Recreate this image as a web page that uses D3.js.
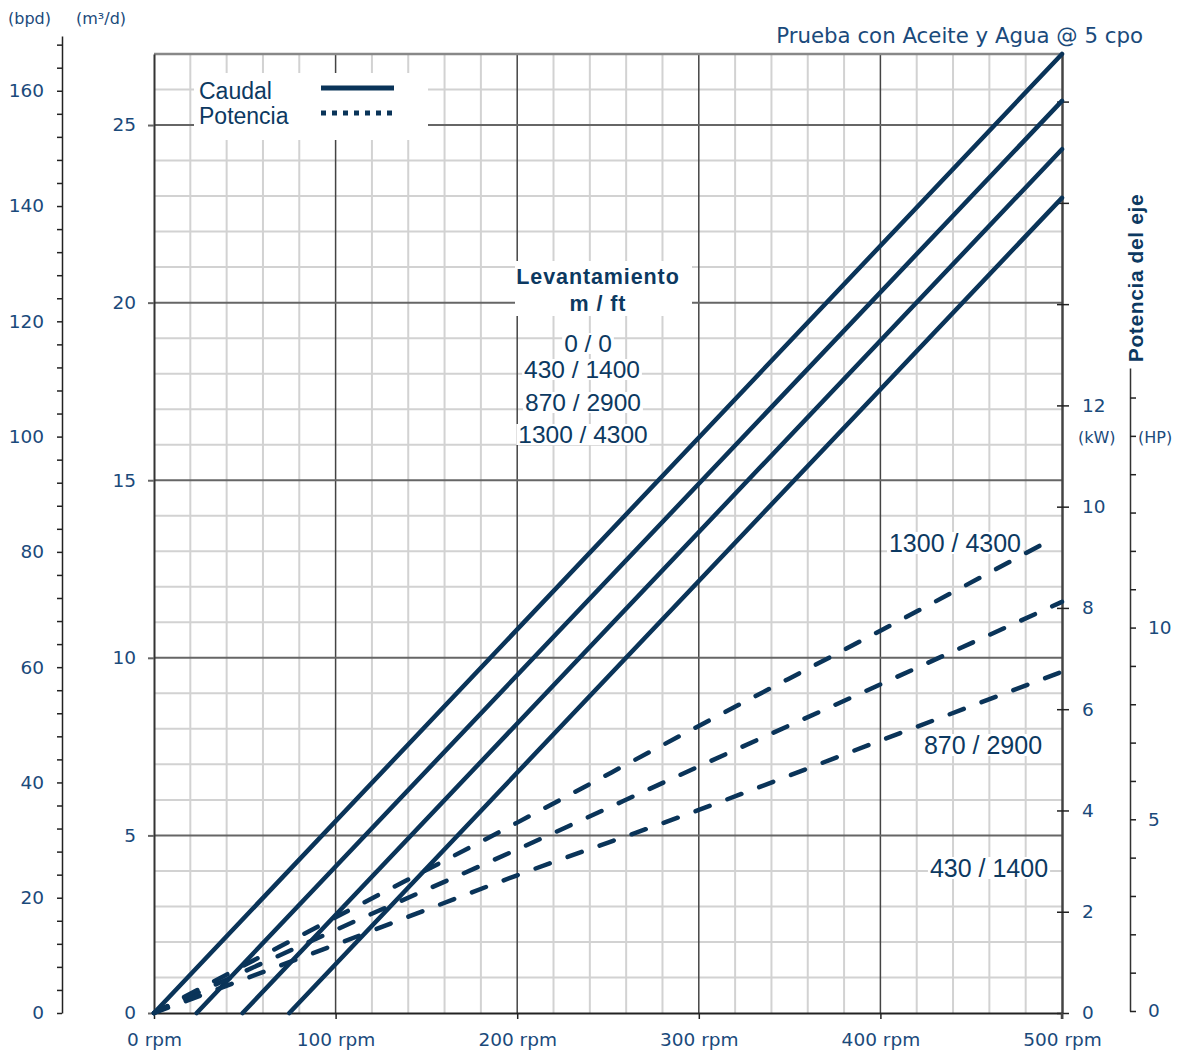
<!DOCTYPE html>
<html><head><meta charset="utf-8">
<script src="https://cdn.jsdelivr.net/npm/d3@7"></script>
<style>
html,body{margin:0;padding:0;background:#fff;}
svg{display:block;}
</style></head>
<body>
<script>
// ---------- DATA ----------
const rpmTicks = [0, 100, 200, 300, 400, 500];
const rpmTickLabels = ["0 rpm", "100 rpm", "200 rpm", "300 rpm", "400 rpm", "500 rpm"];
const flowTicks = [0, 5, 10, 15, 20, 25];          // m³/d
const bpdTicks = [0, 20, 40, 60, 80, 100, 120, 140, 160];
const kwTicks = [0, 2, 4, 6, 8, 10, 12];
const hpTicks = [0, 5, 10];

// Caudal (m³/d) vs rpm, per lift (m / ft)
const liftLabels = ["0 / 0", "430 / 1400", "870 / 2900", "1300 / 4300"];
const caudal_0_0       = [[0, 0],    [500, 27.0]];
const caudal_430_1400  = [[23.5, 0], [500, 25.68]];
const caudal_870_2900  = [[48.8, 0], [500, 24.32]];
const caudal_1300_4300 = [[74.5, 0], [500, 22.95]];

// Potencia (kW) vs rpm
const potencia_1300_4300 = [[0, 0], [100, 1.89], [200, 3.76], [300, 5.67], [400, 7.55], [493, 9.33]];
const potencia_870_2900  = [[0, 0], [100, 1.64], [200, 3.23], [300, 4.87], [400, 6.49], [500, 8.12]];
const potencia_430_1400  = [[0, 0], [100, 1.35], [200, 2.72], [300, 4.01], [400, 5.38], [500, 6.74]];

const titleText = "Prueba con Aceite y Agua @ 5 cpo";

// ---------- STYLE ----------
const W = 1181, H = 1055;
const LINE = "#0a3459";
const TXT = "#1a4a7b";
const TXT_DARK = "#0c3961";

const svg = d3.select("body").append("svg").attr("width", W).attr("height", H);

const x = d3.scaleLinear().domain([0, 500]).range([154, 1062]);
const y = d3.scaleLinear().domain([0, 27]).range([1013, 54]);
const yBpd = d3.scaleLinear().domain([0, 169.5]).range([1013, 36]);
const yKw = d3.scaleLinear().domain([0, 18.94]).range([1013, 54]);
const yHp = d3.scaleLinear().domain([0, 16.77]).range([1011, 368]);

// ---------- GRID ----------
const grid = svg.append("g");
const minorX = d3.range(20, 500, 20).filter(d => d % 100 !== 0);
const minorY = d3.range(1, 27, 1).filter(d => d % 5 !== 0);
grid.selectAll(".mx").data(minorX).join("line")
  .attr("x1", d => x(d)).attr("x2", d => x(d)).attr("y1", y(27)).attr("y2", y(0))
  .attr("stroke", "#d2d2d2").attr("stroke-width", 2);
grid.selectAll(".my").data(minorY).join("line")
  .attr("x1", x(0)).attr("x2", x(500)).attr("y1", d => y(d)).attr("y2", d => y(d))
  .attr("stroke", "#d2d2d2").attr("stroke-width", 2);
grid.selectAll(".Mx").data([100, 200, 300, 400]).join("line")
  .attr("x1", d => x(d)).attr("x2", d => x(d)).attr("y1", y(27)).attr("y2", y(0))
  .attr("stroke", "#444").attr("stroke-width", 1.5);
grid.selectAll(".My").data([5, 10, 15, 20, 25]).join("line")
  .attr("x1", x(0)).attr("x2", x(500)).attr("y1", d => y(d)).attr("y2", d => y(d))
  .attr("stroke", "#666").attr("stroke-width", 2);

// border
svg.append("line").attr("x1", x(0)).attr("x2", x(500)).attr("y1", y(27)).attr("y2", y(27))
  .attr("stroke", "#888").attr("stroke-width", 2.5);

// ---------- AXES ----------
function styleAxis(g, size) {
  g.attr("font-family", "DejaVu Sans, Verdana, sans-serif").attr("font-size", size);
  g.selectAll("text").attr("fill", TXT);
  g.selectAll(".tick line").attr("stroke", "#222").attr("stroke-width", 1.5);
}

// bpd axis
const gBpd = svg.append("g").attr("transform", "translate(62,0)")
  .call(d3.axisLeft(yBpd).tickValues(d3.range(0, 169, 4)).tickSize(5).tickSizeOuter(0).tickPadding(13)
    .tickFormat(d => bpdTicks.includes(d) ? d : ""));
styleAxis(gBpd, 18.5);
gBpd.select(".domain").attr("stroke", "#222").attr("stroke-width", 1.5);

// m³/d axis
const gY = svg.append("g").attr("transform", `translate(${x(0)},0)`)
  .call(d3.axisLeft(y).tickValues(flowTicks).tickSize(6).tickSizeOuter(0).tickPadding(12));
styleAxis(gY, 18.5);
gY.select(".domain").attr("stroke", "#333").attr("stroke-width", 2);
gY.selectAll(".tick line").attr("stroke", "#666").attr("stroke-width", 2);

// x axis
const gX = svg.append("g").attr("transform", `translate(0,${y(0)})`)
  .call(d3.axisBottom(x).tickValues(rpmTicks).tickSize(6).tickSizeOuter(0).tickPadding(14)
    .tickFormat((d, i) => rpmTickLabels[i]));
styleAxis(gX, 18.5);
gX.select(".domain").attr("stroke", "#222").attr("stroke-width", 2);

// kW axis
const gKw = svg.append("g").attr("transform", `translate(${x(500)},0)`)
  .call(d3.axisRight(yKw).tickValues(d3.range(0, 19, 2)).tickSize(7).tickSizeOuter(0).tickPadding(13)
    .tickFormat(d => kwTicks.includes(d) ? d : ""));
styleAxis(gKw, 18.5);
gKw.selectAll(".tick line").attr("x1", -5);
gKw.select(".domain").attr("stroke", "#444").attr("stroke-width", 2.5);
svg.append("line").attr("x1", x(500)).attr("x2", x(500)).attr("y1", y(0)).attr("y2", y(0) + 6)
  .attr("stroke", "#444").attr("stroke-width", 2.5);

// HP axis
const gHp = svg.append("g").attr("transform", "translate(1130,0)")
  .call(d3.axisRight(yHp).tickValues(d3.range(0, 17, 1)).tickSize(6).tickSizeOuter(0).tickPadding(12)
    .tickFormat(d => hpTicks.includes(d) ? d : ""));
styleAxis(gHp, 18.5);
gHp.select(".domain").attr("stroke", "#333").attr("stroke-width", 1.5);

// unit labels
const unitFont = "DejaVu Sans, Verdana, sans-serif";
svg.append("text").attr("x", 8).attr("y", 24).text("(bpd)")
  .attr("font-family", unitFont).attr("font-size", 16).attr("fill", TXT);
svg.append("text").attr("x", 76).attr("y", 24).text("(m³/d)")
  .attr("font-family", unitFont).attr("font-size", 16).attr("fill", TXT);
svg.append("text").attr("x", 1078).attr("y", 443).text("(kW)")
  .attr("font-family", unitFont).attr("font-size", 16).attr("fill", TXT);
svg.append("text").attr("x", 1138).attr("y", 443).text("(HP)")
  .attr("font-family", unitFont).attr("font-size", 16).attr("fill", TXT);

// title
svg.append("text").attr("x", 1143).attr("y", 43).attr("text-anchor", "end").text(titleText)
  .attr("font-family", unitFont).attr("font-size", 21.3).attr("fill", TXT);

// vertical axis title
svg.append("text").attr("transform", "translate(1143,278) rotate(-90)")
  .attr("text-anchor", "middle").text("Potencia del eje")
  .attr("font-family", "Liberation Sans, Arial, sans-serif").attr("font-weight", "bold")
  .attr("font-size", 21).attr("letter-spacing", 0.6).attr("fill", TXT_DARK);

// ---------- LINES ----------
const lineFlow = d3.line().x(d => x(d[0])).y(d => y(d[1]));
const linePow = d3.line().x(d => x(d[0])).y(d => yKw(d[1])).curve(d3.curveMonotoneX);

const plot = svg.append("g");
[caudal_0_0, caudal_430_1400, caudal_870_2900, caudal_1300_4300].forEach(s => {
  plot.append("path").attr("d", lineFlow(s)).attr("fill", "none")
    .attr("stroke", LINE).attr("stroke-width", 4.5).attr("stroke-linecap", "round");
});
[potencia_430_1400, potencia_870_2900, potencia_1300_4300].forEach(s => {
  plot.append("path").attr("d", linePow(s)).attr("fill", "none")
    .attr("stroke", LINE).attr("stroke-width", 4.5).attr("stroke-linecap", "round")
    .attr("stroke-dasharray", "15,19");
});

// ---------- LABELS ----------
function boxedText(txt, cx, by, size, weight, color, ls) {
  const g = svg.append("g");
  const t = g.append("text").attr("x", cx).attr("y", by).attr("text-anchor", "middle").text(txt)
    .attr("font-family", "Liberation Sans, Arial, sans-serif").attr("font-size", size)
    .attr("font-weight", weight || "normal").attr("fill", color || TXT_DARK);
  if (ls) t.attr("letter-spacing", ls);
  const b = t.node().getBBox();
  g.insert("rect", "text").attr("x", b.x - 2).attr("y", b.y + 3).attr("width", b.width + 4)
    .attr("height", b.height - 6).attr("fill", "#fff");
  return g;
}

// Levantamiento box
svg.append("rect").attr("x", 515).attr("y", 261).attr("width", 177).attr("height", 55).attr("fill", "#fff");
svg.append("text").attr("x", 598).attr("y", 284).attr("text-anchor", "middle").text("Levantamiento")
  .attr("font-family", "Liberation Sans, Arial, sans-serif").attr("font-weight", "bold")
  .attr("font-size", 21.5).attr("letter-spacing", 0.9).attr("fill", TXT_DARK);
svg.append("text").attr("x", 598).attr("y", 311).attr("text-anchor", "middle").text("m / ft")
  .attr("font-family", "Liberation Sans, Arial, sans-serif").attr("font-weight", "bold")
  .attr("font-size", 21.5).attr("letter-spacing", 0.9).attr("fill", TXT_DARK);

boxedText(liftLabels[0], 588, 352, 24.5);
boxedText(liftLabels[1], 582, 378, 24.5);
boxedText(liftLabels[2], 583, 411, 24.5);
boxedText(liftLabels[3], 583, 443, 24.5);

boxedText(liftLabels[3], 955, 552, 25);
boxedText(liftLabels[2], 983, 754, 25);
boxedText(liftLabels[1], 989, 877, 25);

// ---------- LEGEND ----------
svg.append("rect").attr("x", 194).attr("y", 73).attr("width", 234).attr("height", 67).attr("fill", "#fff");
svg.append("text").attr("x", 199).attr("y", 99).text("Caudal")
  .attr("font-family", "Liberation Sans, Arial, sans-serif").attr("font-size", 23).attr("fill", TXT_DARK);
svg.append("text").attr("x", 199).attr("y", 124).text("Potencia")
  .attr("font-family", "Liberation Sans, Arial, sans-serif").attr("font-size", 23).attr("fill", TXT_DARK);
svg.append("line").attr("x1", 321).attr("x2", 394).attr("y1", 88).attr("y2", 88)
  .attr("stroke", LINE).attr("stroke-width", 5);
svg.append("line").attr("x1", 321).attr("x2", 392).attr("y1", 113).attr("y2", 113)
  .attr("stroke", LINE).attr("stroke-width", 5).attr("stroke-dasharray", "5,6");
</script>
</body></html>
